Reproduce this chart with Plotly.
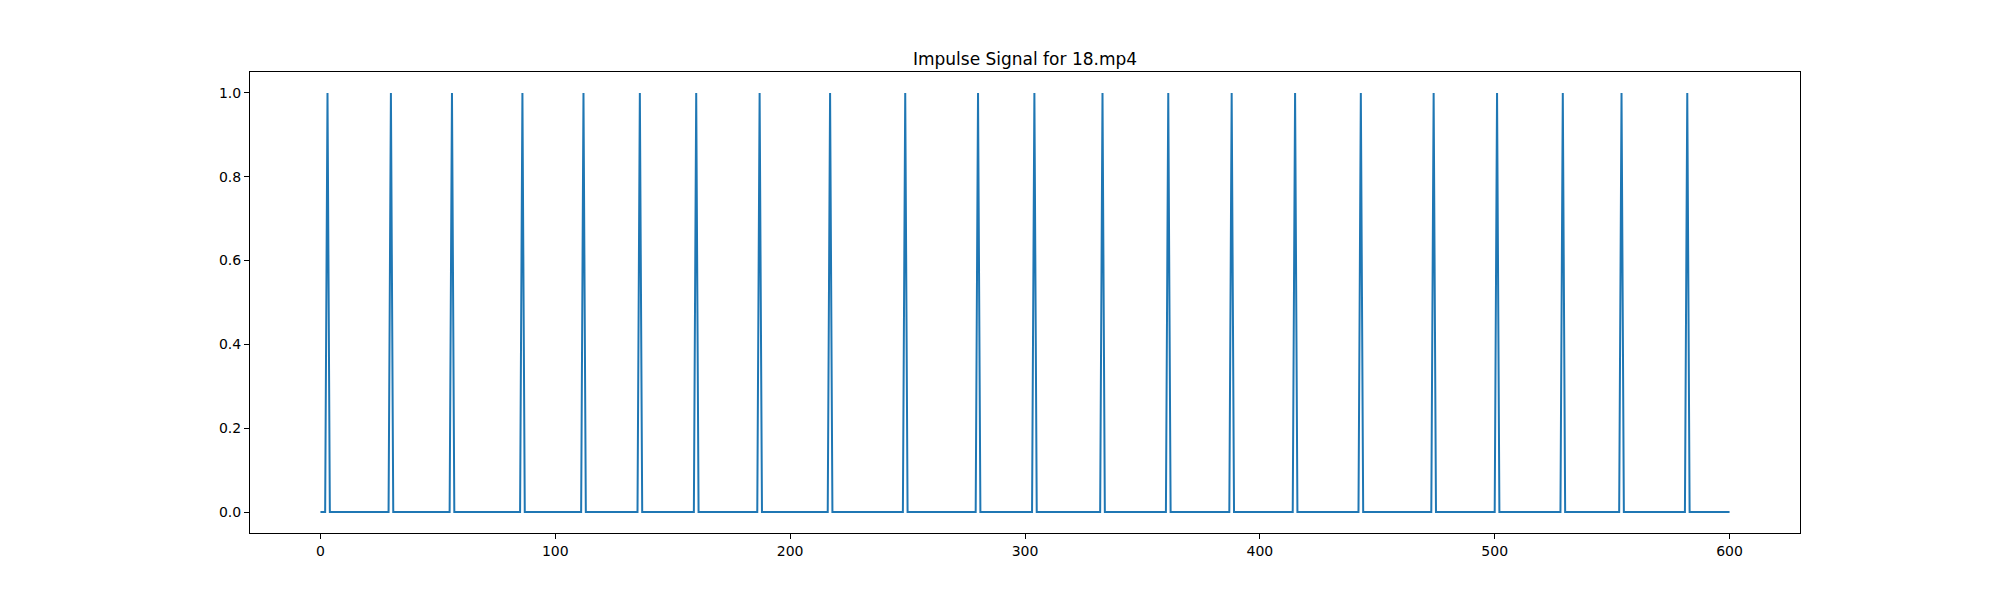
import plotly.graph_objects as go

# Frame indices 0..600 and frames where the impulse fires
n_frames = 601
impulse_frames = [3, 30, 56, 86, 112, 136, 160, 187, 217, 249, 280, 304, 333,
                  361, 388, 415, 443, 474, 501, 529, 554, 582]

frames = list(range(n_frames))
signal = [1 if f in impulse_frames else 0 for f in frames]

y_ticks = [0.0, 0.2, 0.4, 0.6, 0.8, 1.0]
x_ticks = [0, 100, 200, 300, 400, 500, 600]

font = dict(family="DejaVu Sans", size=14, color="black")

fig = go.Figure()
fig.add_trace(go.Scatter(x=frames, y=signal, mode="lines",
                         line=dict(color="#1f77b4", width=2)))

axis_common = dict(showline=True, linecolor="black", linewidth=1, mirror=True,
                   ticks="outside", ticklen=5, tickwidth=1, tickcolor="black",
                   showgrid=False, zeroline=False, tickfont=font)

fig.update_layout(
    width=1992, height=592, autosize=False,
    margin=dict(l=242, r=200, t=64, b=67),
    paper_bgcolor="white", plot_bgcolor="white",
    showlegend=False,
    font=font,
    title=dict(text="Impulse Signal for 18.mp4", x=0.5, xref="paper",
               y=1, yref="paper", yanchor="bottom", xanchor="center",
               pad=dict(b=7), font=dict(family="DejaVu Sans", size=17, color="black")),
    xaxis=dict(range=[-30, 630], tickvals=x_ticks, **axis_common),
    yaxis=dict(range=[-0.05, 1.05], tickvals=y_ticks, tickformat=".1f", **axis_common),
)

fig.write_html("out.html")
